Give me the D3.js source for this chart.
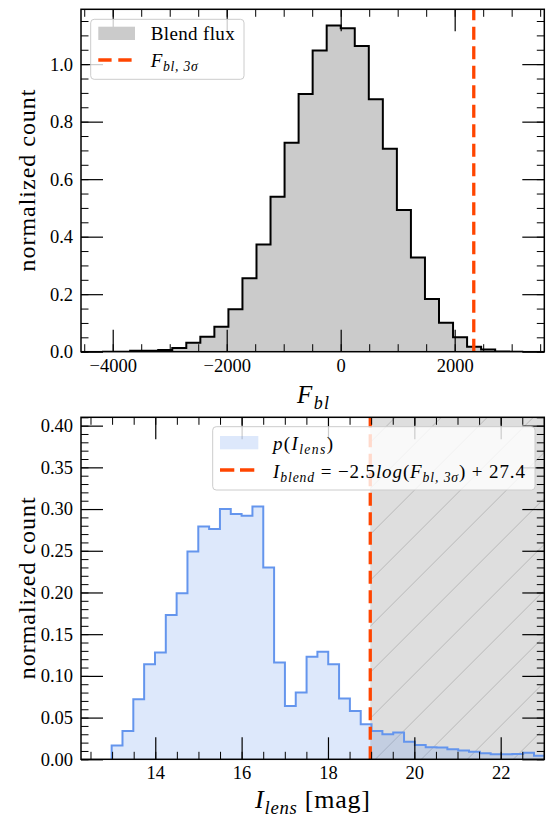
<!DOCTYPE html>
<html>
<head>
<meta charset="utf-8">
<script src="https://cdn.jsdelivr.net/npm/d3@7"></script>
<style>
  html, body { margin: 0; padding: 0; background: #fff; }
  svg { display: block; font-family: "Liberation Serif", "Times New Roman", serif; }
</style>
</head>
<body>
<svg id="fig" width="546" height="817"></svg>
<script>
// ---- Blend-flux histogram (normalized), 30 equal bins ----
const fluxBinStart = -4187;
const fluxBinWidth = 246.33;
const fluxCounts = [
  0, 0, 0.003, 0.003, 0.006, 0.013, 0.031, 0.052, 0.087, 0.148,
  0.255, 0.373, 0.539, 0.727, 0.896, 1.047, 1.134, 1.125, 1.063, 0.878,
  0.706, 0.493, 0.328, 0.183, 0.101, 0.050, 0.017, 0.008, 0.001, 0
];
const fluxXTicks = [-4000, -2000, 0, 2000];
const fluxYTicks = [0.0, 0.2, 0.4, 0.6, 0.8, 1.0];

// 3-sigma blend-flux threshold
const fBl3Sigma = 2335;

// ---- Lens-magnitude histogram (normalized), 40 equal bins ----
const lensBinStart = 12.99;
const lensBinWidth = 0.2508;
const lensCounts = [
  0.0164, 0.034, 0.072, 0.114, 0.128, 0.173, 0.199, 0.249, 0.279, 0.276,
  0.300, 0.294, 0.292, 0.303, 0.230, 0.116, 0.064, 0.080, 0.123, 0.129,
  0.114, 0.073, 0.058, 0.042, 0.034, 0.030, 0.032, 0.021, 0.017, 0.0144,
  0.014, 0.012, 0.0104, 0.0092, 0.0072, 0.006, 0.006, 0.0064, 0.008, 0.0044
];
const lensXTicks = [14, 16, 18, 20, 22];
const lensYTicks = [0.00, 0.05, 0.10, 0.15, 0.20, 0.25, 0.30, 0.35, 0.40];

const zeroPoint = 27.4;
const iBlend = -2.5 * Math.log10(fBl3Sigma) + zeroPoint;

const svg = d3.select("#fig");
const defs = svg.append("defs");

const ORANGE = "#ff4500";
const BLUE = "#6495ed";

function range(a, b, s) {
  const out = [];
  for (let v = a; v <= b + s * 1e-6; v += s) out.push(+v.toFixed(6));
  return out;
}

// step outline: starts and ends on the baseline, open at the bottom
function stepPath(x, y, start, width, counts) {
  let d = `M${x(start)},${y(0)}`;
  counts.forEach((c, i) => {
    const x0 = x(start + i * width), x1 = x(start + (i + 1) * width);
    d += `L${x0},${y(c)}L${x1},${y(c)}`;
  });
  d += `L${x(start + counts.length * width)},${y(0)}`;
  return d;
}

// math-style text: segments of {t, it, sub}
function mathText(sel, x, y, size, segs, len) {
  const t = sel.append("text").attr("x", x).attr("y", y)
    .attr("font-size", size).attr("fill", "#000");
  if (len) t.attr("textLength", len).attr("lengthAdjust", "spacing");
  let inSub = false;
  segs.forEach(s => {
    const ts = t.append("tspan").text(s.t)
      .attr("font-style", s.it ? "italic" : "normal");
    if (s.sub && !inSub) { ts.attr("dy", size * 0.22); inSub = true; }
    else if (!s.sub && inSub) { ts.attr("dy", -size * 0.22); inSub = false; }
    if (s.sub) ts.attr("font-size", size * 0.72);
  });
  return t;
}

function drawAxes(g, x, y, w, h, opt) {
  const minorLen = 7.5, majorLen = 22;
  const mk = (axisFn, scale, ticks, len, labels, fmt, pad) =>
    axisFn(scale).tickValues(ticks).tickSizeInner(-len).tickSizeOuter(0)
      .tickPadding(pad || 7).tickFormat(labels ? fmt : () => "");

  const sides = [
    { fn: d3.axisBottom, s: x, tr: `translate(0,${h})`, lab: true, fmt: opt.xfmt, maj: opt.xMajor, min: opt.xMinor },
    { fn: d3.axisTop, s: x, tr: `translate(0,0)`, lab: false, maj: opt.xMajor, min: opt.xMinor },
    { fn: d3.axisLeft, s: y, tr: `translate(0,0)`, lab: true, fmt: opt.yfmt, maj: opt.yMajor, min: opt.yMinor },
    { fn: d3.axisRight, s: y, tr: `translate(${w},0)`, lab: false, maj: opt.yMajor, min: opt.yMinor }
  ];
  sides.forEach(sd => {
    const gm = g.append("g").attr("transform", sd.tr)
      .call(mk(sd.fn, sd.s, sd.min, minorLen, false));
    gm.select(".domain").remove();
    gm.selectAll("line").attr("stroke", "#000").attr("stroke-width", 1);
    const gM = g.append("g").attr("transform", sd.tr)
      .call(mk(sd.fn, sd.s, sd.maj, majorLen, sd.lab, sd.fmt, sd.fn === d3.axisLeft ? 8 : 7));
    gM.select(".domain").remove();
    gM.selectAll("line").attr("stroke", "#000").attr("stroke-width", 1.2);
    gM.selectAll("text").attr("font-size", 18.5).attr("fill", "#000")
      .attr("font-family", "Liberation Serif, serif");
  });
  g.append("rect").attr("width", w).attr("height", h)
    .attr("fill", "none").attr("stroke", "#000").attr("stroke-width", 1.5);
}

function legendBox(g, x, y, w, h) {
  g.append("rect").attr("x", x).attr("y", y).attr("width", w).attr("height", h)
    .attr("rx", 3.5).attr("fill", "#fff").attr("fill-opacity", 0.8)
    .attr("stroke", "#cccccc").attr("stroke-width", 1);
}

// ================= Top panel: blend flux =================
{
  const L = 81, T = 9.3, W = 544.3 - 81, H = 351.7 - 9.3;
  const g = svg.append("g").attr("transform", `translate(${L},${T})`);
  const x = d3.scaleLinear().domain([-4556.5, 3572.5]).range([0, W]);
  const y = d3.scaleLinear().domain([0, 1.1907]).range([H, 0]);

  defs.append("clipPath").attr("id", "clipTop")
    .append("rect").attr("width", W).attr("height", H);
  const pg = g.append("g").attr("clip-path", "url(#clipTop)");

  pg.append("path")
    .attr("d", stepPath(x, y, fluxBinStart, fluxBinWidth, fluxCounts) + "Z")
    .attr("fill", "#cbcbcb").attr("stroke", "none");
  pg.append("path")
    .attr("d", stepPath(x, y, fluxBinStart, fluxBinWidth, fluxCounts))
    .attr("fill", "none").attr("stroke", "#000").attr("stroke-width", 2)
    .attr("stroke-linejoin", "miter");

  pg.append("line")
    .attr("x1", x(fBl3Sigma)).attr("x2", x(fBl3Sigma))
    .attr("y1", H).attr("y2", 0)
    .attr("stroke", ORANGE).attr("stroke-width", 3.3)
    .attr("stroke-dasharray", "13,6.5");

  drawAxes(g, x, y, W, H, {
    xMajor: fluxXTicks, xMinor: range(-4500, 3500, 500),
    yMajor: fluxYTicks, yMinor: range(0, 1.15, 0.05),
    xfmt: d3.format("d"), yfmt: d3.format(".1f")
  });

  // legend
  const lg = svg.append("g");
  legendBox(lg, 90.7, 19.3, 153.3, 60);
  lg.append("rect").attr("x", 98.3).attr("y", 26.7).attr("width", 36.7).attr("height", 13.3)
    .attr("fill", "#cbcbcb");
  lg.append("text").attr("x", 150.7).attr("y", 40).attr("font-size", 19)
    .attr("textLength", 84).attr("lengthAdjust", "spacing")
    .text("Blend flux");
  lg.append("line").attr("x1", 98.3).attr("x2", 132).attr("y1", 60).attr("y2", 60)
    .attr("stroke", ORANGE).attr("stroke-width", 3.3).attr("stroke-dasharray", "13.3,6.7");
  mathText(lg, 150.7, 67, 19, [
    { t: "F", it: true }, { t: "bl, 3σ", it: true, sub: true }
  ], 47);

  // axis labels
  mathText(svg, 297, 403, 25, [
    { t: "F", it: true }, { t: "bl", it: true, sub: true }
  ], 32);
  svg.append("text").attr("transform", `translate(35,${T + H / 2}) rotate(-90)`)
    .attr("text-anchor", "middle").attr("font-size", 24)
    .attr("textLength", 182).attr("lengthAdjust", "spacing")
    .text("normalized count");
}

// ================= Bottom panel: lens magnitude =================
{
  const L = 81, T = 417.3, W = 544.3 - 81, H = 759.3 - 417.3;
  const g = svg.append("g").attr("transform", `translate(${L},${T})`);
  const x = d3.scaleLinear().domain([12.28, 23.01]).range([0, W]);
  const y = d3.scaleLinear().domain([0, 0.41]).range([H, 0]);

  defs.append("clipPath").attr("id", "clipBot")
    .append("rect").attr("width", W).attr("height", H);
  const pg = g.append("g").attr("clip-path", "url(#clipBot)");

  // hatched region fainter than the blend limit
  const hatch = defs.append("pattern").attr("id", "hatch")
    .attr("patternUnits", "userSpaceOnUse")
    .attr("width", 46).attr("height", 46)
    .attr("x", L).attr("y", T);
  hatch.append("path").attr("d", "M-2,48L48,-2M-25,25L25,-25M21,71L71,21")
    .attr("stroke", "#b8b8b8").attr("stroke-width", 1).attr("fill", "none");

  pg.append("rect").attr("x", x(iBlend)).attr("y", 0)
    .attr("width", W - x(iBlend)).attr("height", H)
    .attr("fill", "#808080").attr("fill-opacity", 0.26);
  pg.append("rect").attr("x", x(iBlend)).attr("y", 0)
    .attr("width", W - x(iBlend)).attr("height", H)
    .attr("fill", "url(#hatch)");

  pg.append("path")
    .attr("d", stepPath(x, y, lensBinStart, lensBinWidth, lensCounts) + "Z")
    .attr("fill", BLUE).attr("fill-opacity", 0.22).attr("stroke", "none");
  pg.append("path")
    .attr("d", stepPath(x, y, lensBinStart, lensBinWidth, lensCounts))
    .attr("fill", "none").attr("stroke", BLUE).attr("stroke-width", 2);

  pg.append("line")
    .attr("x1", x(iBlend)).attr("x2", x(iBlend))
    .attr("y1", H).attr("y2", 0)
    .attr("stroke", ORANGE).attr("stroke-width", 3.3)
    .attr("stroke-dasharray", "13,6.5");

  drawAxes(g, x, y, W, H, {
    xMajor: lensXTicks, xMinor: range(12.5, 23, 0.5),
    yMajor: lensYTicks, yMinor: range(0, 0.41, 0.01),
    xfmt: d3.format("d"), yfmt: d3.format(".2f")
  });

  // legend
  const lg = svg.append("g");
  legendBox(lg, 212.7, 426.7, 322.3, 63.3);
  lg.append("rect").attr("x", 220).attr("y", 436).attr("width", 38.3).attr("height", 13.3)
    .attr("fill", BLUE).attr("fill-opacity", 0.22);
  mathText(lg, 273, 450, 19, [
    { t: "p", it: true }, { t: "(", it: false }, { t: "I", it: true },
    { t: "lens", it: true, sub: true }, { t: ")", it: false }
  ], 60);
  lg.append("line").attr("x1", 220).attr("x2", 258).attr("y1", 470).attr("y2", 470)
    .attr("stroke", ORANGE).attr("stroke-width", 3.3).attr("stroke-dasharray", "14.3,5.7");
  mathText(lg, 273, 478, 19, [
    { t: "I", it: true }, { t: "blend", it: true, sub: true },
    { t: " = −2.5", it: false }, { t: "log", it: true }, { t: "(", it: false },
    { t: "F", it: true }, { t: "bl, 3σ", it: true, sub: true },
    { t: ") + 27.4", it: false }
  ], 252);

  // axis labels
  mathText(svg, 255, 808, 26, [
    { t: "I", it: true }, { t: "lens", it: true, sub: true }, { t: " [mag]", it: false }
  ], 115);
  svg.append("text").attr("transform", `translate(35,${T + H / 2}) rotate(-90)`)
    .attr("text-anchor", "middle").attr("font-size", 24)
    .attr("textLength", 182).attr("lengthAdjust", "spacing")
    .text("normalized count");
}
</script>
</body>
</html>
